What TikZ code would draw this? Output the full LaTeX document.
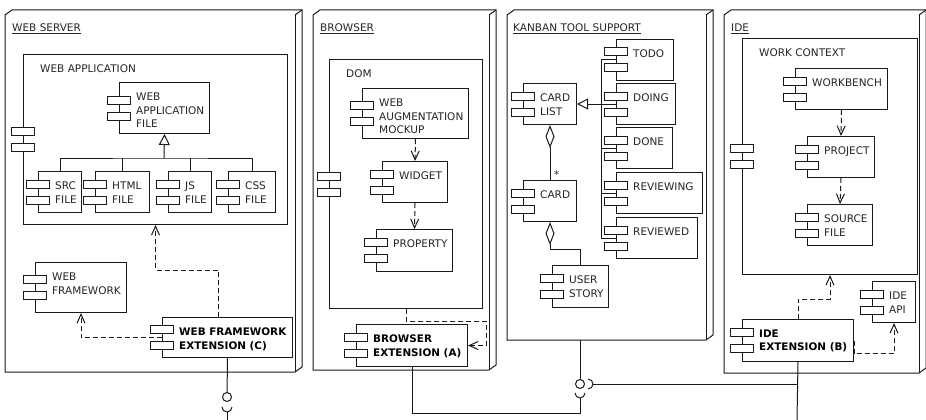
\documentclass[tikz,border=0pt]{standalone}
\usepackage{fontspec}
\setmainfont{DejaVu Sans}
\usetikzlibrary{arrows.meta,calc}

\tikzset{
  ln/.style={line width=1pt, draw=black!90},
  box/.style={ln, rectangle, fill=white, inner sep=0pt, anchor=north west},
  icn/.style={ln, fill=white},
  txt/.style={inner sep=0pt, anchor=north west, align=left, text=black!85, font=\fontsize{10.5}{13.5}\selectfont},
  btxt/.style={txt, text=black, font=\fontsize{10.4}{13.5}\selectfont\bfseries},
  ptxt/.style={inner sep=0pt, anchor=base west, text=black!85, font=\fontsize{10.5}{13.5}\selectfont},
  dep/.style={ln, dash pattern=on 5pt off 3pt, -{Straight Barb[length=9pt,width=8pt]}},
  gen/.style={ln, -{Triangle[open,length=11pt,width=11pt]}},
  agg/.style={ln, {Diamond[open,length=23pt,width=9pt]}-},
  lolli/.style={ln, circle, fill=white, minimum size=9pt, inner sep=0pt},
}

% component: [style] name x y w h text
\newcommand\comp[7][txt]{%
  \node[box, minimum width=#5pt, minimum height=#6pt] (#2) at (#3,#4) {};
  \node[#1] (#2-t) at ([xshift=17pt,yshift=-10.7pt]#2.north west) {#7};
  \draw[icn] ([xshift=-12pt,yshift=4pt]#2.west) rectangle ++(23,-8);
  \draw[icn] ([xshift=-12pt,yshift=-4pt]#2.west) rectangle ++(23,8);
}
% deployment node: x1 y1 x2 y2
\newcommand\depnode[4]{%
  \draw[ln] (#1,#4) -- (#1,#2) -- (#1+7,#2-5) -- (#3+7,#2-5) -- (#3+7,#4-5) -- (#3,#4) -- cycle;
  \draw[ln] (#3,#2) -- (#3,#4);
  \draw[ln] (#3,#2) -- (#3+7,#2-5);
}

\begin{document}
\begin{tikzpicture}[x=1pt,y=-1pt]
\useasboundingbox (0,0) rectangle (926,420);

% ---------- panels ----------
\depnode{5}{15}{295}{372}
\depnode{313}{15}{489}{370}
\depnode{507}{15}{706}{340}
\depnode{724}{15}{919}{373}
\node[ptxt] (ws-l) at (12,31.8) {\underline{WEB SERVER}};
\node[ptxt] (br-l) at (320,31.8) {\underline{BROWSER}};
\node[ptxt] (kb-l) at (513,31.8) {\underline{KANBAN TOOL SUPPORT}};
\node[ptxt] (ide-l) at (731,31.8) {\underline{IDE}};

% ---------- web server ----------
\comp{webapp}{23}{54}{264}{170}{WEB APPLICATION}
\comp{wafile}{119}{82}{90}{51}{WEB\\APPLICATION\\FILE}
\comp{src}{38}{171}{43}{41}{SRC\\FILE}
\comp{html}{95}{171}{54}{41}{HTML\\FILE}
\comp{js}{168}{171}{43}{41}{JS\\FILE}
\comp{css}{228}{171}{47}{41}{CSS\\FILE}
\comp{webfw}{35}{262}{91}{50}{WEB\\FRAMEWORK}
\comp[btxt]{wfext}{162}{317}{130}{40}{WEB FRAMEWORK\\EXTENSION (C)}

\coordinate (wbus) at (164,158);
\draw[gen] (wbus) -- (wafile.south);
\draw[ln] (src.north) |- (wbus) -| (css.north);
\draw[ln] (html.north) -- (html.north |- wbus);
\draw[ln] (js.north) -- (js.north |- wbus);
\draw[dep] (wfext.west) -| (webfw.south);
\draw[dep] ([xshift=-9pt]wfext.north) -- ++(0,-47) -| (webapp.south);

% ---------- browser ----------
\comp{dom}{329}{59}{153}{249}{DOM}
\comp{mockup}{362}{88}{106}{50}{WEB\\AUGMENTATION\\MOCKUP}
\comp{widget}{382}{161}{65}{41}{WIDGET}
\comp{property}{376}{229}{76}{42}{PROPERTY}
\comp[btxt]{bext}{356}{324}{111}{42}{BROWSER\\EXTENSION (A)}

\draw[dep] (mockup.south) -- (widget.north);
\draw[dep] (widget.south) -- (property.north);
\draw[dep] (dom.south) -- ++(0,12) -- ++(80,0) |- (bext.east);

% ---------- kanban ----------
\comp{cardlist}{523}{83}{53}{41}{CARD\\LIST}
\comp{card}{523}{180}{53}{41}{CARD}
\comp{story}{552}{265}{56}{42}{USER\\STORY}
\comp{todo}{616}{39}{57}{41}{TODO}
\comp{doing}{616}{83}{59}{41}{DOING}
\comp{done}{616}{127}{56}{41}{DONE}
\comp{reviewing}{616}{172}{86}{41}{REVIEWING}
\comp{reviewed}{616}{217}{81}{41}{REVIEWED}

\coordinate (kbus) at (601.5,104);
\draw[gen] (kbus) -- (cardlist.east);
\draw[ln] (todo.west) -| (kbus) |- (reviewed.west);
\draw[ln] (doing.west) -- (kbus);
\draw[ln] (done.west) -- (done.west -| kbus);
\draw[ln] (reviewing.west) -- (reviewing.west -| kbus);
\draw[agg] (cardlist.south) -- (card.north);
\node[ptxt] (mult) at (554,178) {*};
\draw[agg] (card.south) -- ++(0,27) -| (story.north);

% ---------- IDE ----------
\comp{work}{742}{38}{175}{236}{WORK CONTEXT}
\comp{workbench}{795}{68}{92}{41}{WORKBENCH}
\comp{project}{807}{136}{67}{41}{PROJECT}
\comp{source}{807}{204}{65}{41}{SOURCE\\FILE}
\comp{ideapi}{872}{281}{43}{41}{IDE\\API}
\comp[btxt]{ideext}{742}{319}{111}{42}{IDE\\EXTENSION (B)}

\draw[dep] (workbench.south) -- (project.north);
\draw[dep] (project.south) -- (source.north);
\draw[dep] (ideext.north) -- ++(0,-20) -| (work.south);
\draw[dep] (ideext.east) -- ++(0,13) -| (ideapi.south);

% ---------- interfaces ----------
\node[lolli] (lw) at (227,397) {};
\draw[ln] (wfext.south) -- (lw);
\coordinate (sw) at (227,407);
\draw[ln] ([xshift=-5pt]sw) arc[start angle=180,end angle=360,radius=5pt];
\coordinate (swend) at (227,420);
\draw[ln] ([yshift=-5pt]sw) -- (swend);

\coordinate (kb) at (580,340);
\node[lolli] (lk) at (580,384) {};
\draw[ln] (kb) -- (lk);
\coordinate (skr) at (588,384);
\draw[ln] ([yshift=5pt]skr) arc[start angle=90,end angle=-90,radius=5pt];
\coordinate (skb) at (580,393);
\draw[ln] ([xshift=-5pt]skb) arc[start angle=180,end angle=360,radius=5pt];
\coordinate (ideend) at (797,420);
\draw[ln] (ideext.south) -- (ideend);
\draw[ln] ([xshift=5pt]skr) -- (ideext.south |- skr);
\draw[ln] ([yshift=-5pt]skb) -- ++(0,15) -| (bext.south);
\end{tikzpicture}
\end{document}
